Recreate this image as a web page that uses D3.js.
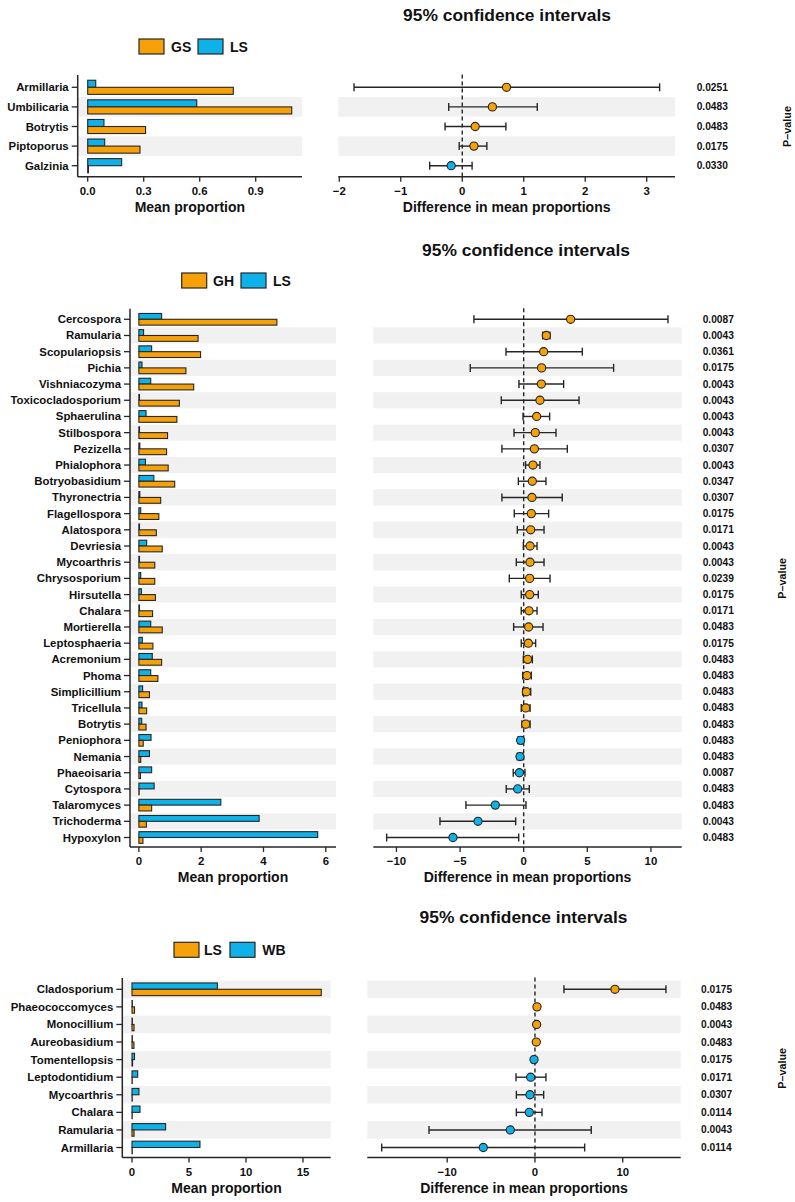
<!DOCTYPE html>
<html><head><meta charset="utf-8">
<script src="https://cdn.jsdelivr.net/npm/d3@7"></script>
<style>body{margin:0;background:#fff}svg{display:block}text{font-family:"Liberation Sans",Arial,Helvetica,sans-serif;font-weight:bold;fill:#111}</style>
</head><body>
<script>
// ---------- Panel 1 : GS vs LS ----------
const groups1 = ["GS","LS"];
const cats1 = ["Armillaria","Umbilicaria","Botrytis","Piptoporus","Galzinia"];
const gs1 = [0.78,1.093,0.31,0.28,0.004];
const ls1 = [0.043,0.584,0.087,0.091,0.182];
const diff1 = [0.72,0.49,0.21,0.19,-0.18];
const lo1 = [-1.76,-0.22,-0.28,-0.05,-0.53];
const hi1 = [3.21,1.22,0.71,0.40,0.16];
const p1 = ["0.0251","0.0483","0.0483","0.0175","0.0330"];
const barTicks1 = [0,0.3,0.6,0.9];
const ciTicks1 = [-2,-1,0,1,2,3];

// ---------- Panel 2 : GH vs LS ----------
const groups2 = ["GH","LS"];
const cats2 = ["Cercospora","Ramularia","Scopulariopsis","Pichia","Vishniacozyma","Toxicocladosporium","Sphaerulina","Stilbospora","Pezizella","Phialophora","Botryobasidium","Thyronectria","Flagellospora","Alatospora","Devriesia","Mycoarthris","Chrysosporium","Hirsutella","Chalara","Mortierella","Leptosphaeria","Acremonium","Phoma","Simplicillium","Tricellula","Botrytis","Peniophora","Nemania","Phaeoisaria","Cytospora","Talaromyces","Trichoderma","Hypoxylon"];
const gh2 = [4.43,1.90,1.98,1.51,1.76,1.30,1.22,0.92,0.89,0.94,1.15,0.70,0.64,0.56,0.75,0.51,0.51,0.53,0.44,0.75,0.45,0.73,0.61,0.34,0.25,0.23,0.14,0.06,0.05,0.01,0.41,0.24,0.13];
const ls2 = [0.73,0.15,0.41,0.10,0.38,0.02,0.23,0.02,0.03,0.21,0.48,0.03,0.06,0.02,0.25,0.02,0.06,0.08,0.02,0.38,0.11,0.43,0.38,0.12,0.10,0.09,0.39,0.34,0.41,0.49,2.63,3.86,5.74];
const diff2 = [3.69,1.78,1.57,1.41,1.39,1.28,1.02,0.91,0.84,0.73,0.68,0.65,0.60,0.55,0.50,0.50,0.47,0.47,0.42,0.39,0.37,0.31,0.26,0.21,0.16,0.16,-0.24,-0.29,-0.34,-0.47,-2.23,-3.59,-5.56];
const lo2 = [-3.91,1.49,-1.39,-4.20,-0.37,-1.76,-0.05,-0.76,-1.71,0.15,-0.42,-1.71,-0.74,-0.50,-0.03,-0.58,-1.13,-0.19,-0.19,-0.79,-0.19,-0.03,-0.08,-0.08,-0.19,-0.14,-0.45,-0.50,-0.82,-1.37,-4.54,-6.58,-10.77];
const hi2 = [11.34,2.07,4.61,7.07,3.14,4.35,2.04,2.54,3.43,1.28,1.75,3.03,1.96,1.60,1.05,1.60,2.07,1.15,1.05,1.52,0.94,0.68,0.60,0.55,0.50,0.50,-0.05,-0.08,0.10,0.44,0.18,-0.63,-0.39];
const p2 = ["0.0087","0.0043","0.0361","0.0175","0.0043","0.0043","0.0043","0.0043","0.0307","0.0043","0.0347","0.0307","0.0175","0.0171","0.0043","0.0043","0.0239","0.0175","0.0171","0.0483","0.0175","0.0483","0.0483","0.0483","0.0483","0.0483","0.0483","0.0483","0.0087","0.0483","0.0483","0.0043","0.0483"];
const barTicks2 = [0,2,4,6];
const ciTicks2 = [-10,-5,0,5,10];

// ---------- Panel 3 : LS vs WB ----------
const groups3 = ["LS","WB"];
const cats3 = ["Cladosporium","Phaeococcomyces","Monocillium","Aureobasidium","Tomentellopsis","Leptodontidium","Mycoarthris","Chalara","Ramularia","Armillaria"];
const ls3 = [16.6,0.22,0.18,0.17,0.05,0.02,0.02,0.02,0.18,0.02];
const wb3 = [7.49,0.03,0.03,0.03,0.22,0.5,0.61,0.7,2.95,5.96];
const diff3 = [9.11,0.23,0.19,0.15,-0.11,-0.49,-0.57,-0.65,-2.81,-5.89];
const lo3 = [3.3,0.08,0.05,0.03,-0.3,-2.16,-2.12,-2.12,-12.07,-17.46];
const hi3 = [14.92,0.38,0.33,0.28,0.08,1.25,0.99,0.80,6.41,5.66];
const p3 = ["0.0175","0.0483","0.0043","0.0483","0.0175","0.0171","0.0307","0.0114","0.0043","0.0114"];
const barTicks3 = [0,5,10,15];
const ciTicks3 = [-10,0,10];

const ORANGE = "#F7A10A", BLUE = "#0FB2E8", BAND = "#F1F1F1", INK = "#262626";

const svg = d3.select("body").append("svg").attr("width",795).attr("height",1202);
svg.append("rect").attr("width",795).attr("height",1202).attr("fill","#fff");

function panel(o){
  const g = svg.append("g");
  const n = o.cats.length;
  const y = d3.scaleBand().domain(o.cats).range([o.yTop,o.yBot]).padding(0);
  const s = y.bandwidth();
  const xb = d3.scaleLinear().domain(o.barDom).range([o.barL,o.barR]);
  const xc = d3.scaleLinear().domain(o.ciDom).range([o.ciL,o.ciR]);
  o.cats.forEach((c,i)=>{
    if((n-1-i)%2===1){
      g.append("rect").attr("x",o.barL).attr("y",y(c)).attr("width",o.barR-o.barL).attr("height",s).attr("fill",BAND);
      g.append("rect").attr("x",o.ciL).attr("y",y(c)).attr("width",o.ciR-o.ciL).attr("height",s).attr("fill",BAND);
    }
  });
  g.append("text").attr("x",o.titleX).attr("y",o.titleY).attr("text-anchor","middle").attr("dominant-baseline","central").style("font-size","17.4px").text("95% confidence intervals");
  const legCols=[ORANGE,BLUE];
  o.groups.forEach((gr,k)=>{
    g.append("rect").attr("x",o.leg[k*2]).attr("y",o.legY).attr("width",25).attr("height",15).attr("fill",legCols[k]).attr("stroke",INK).attr("stroke-width",1.2);
    g.append("text").attr("x",o.leg[k*2+1]).attr("y",o.legY+7.8).attr("dominant-baseline","central").style("font-size","14px").text(gr);
  });
  const bh = s*0.36;
  o.cats.forEach((c,i)=>{
    const cy = y(c)+s/2;
    g.append("rect").attr("x",xb(0)).attr("y",cy-bh).attr("width",Math.max(0,xb(o.b[i])-xb(0))).attr("height",bh).attr("fill",BLUE).attr("stroke",INK).attr("stroke-width",1.1);
    g.append("rect").attr("x",xb(0)).attr("y",cy).attr("width",Math.max(0,xb(o.a[i])-xb(0))).attr("height",bh).attr("fill",ORANGE).attr("stroke",INK).attr("stroke-width",1.1);
  });
  const axY = o.yBot+1.3;
  g.append("line").attr("x1",o.barL).attr("x2",o.barL).attr("y1",o.yTop-2.5).attr("y2",axY).attr("stroke",INK).attr("stroke-width",1.5);
  g.append("line").attr("x1",o.barL).attr("x2",o.barR).attr("y1",axY).attr("y2",axY).attr("stroke",INK).attr("stroke-width",1.5);
  o.cats.forEach(c=>{
    const cy=y(c)+s/2;
    g.append("line").attr("x1",o.barL-6).attr("x2",o.barL).attr("y1",cy).attr("y2",cy).attr("stroke",INK).attr("stroke-width",1.3);
    g.append("text").attr("x",o.barL-9).attr("y",cy).attr("text-anchor","end").attr("dominant-baseline","central").style("font-size","11.4px").text(c);
  });
  const fmt = o.barFmt;
  o.barTicks.forEach(t=>{
    g.append("line").attr("x1",xb(t)).attr("x2",xb(t)).attr("y1",axY).attr("y2",axY+5).attr("stroke",INK).attr("stroke-width",1.3);
    g.append("text").attr("x",xb(t)).attr("y",axY+14.5).attr("text-anchor","middle").attr("dominant-baseline","central").style("font-size","11.4px").text(fmt(t));
  });
  g.append("text").attr("x",(o.barL+o.barR)/2).attr("y",axY+30).attr("text-anchor","middle").attr("dominant-baseline","central").style("font-size","14px").text("Mean proportion");
  g.append("line").attr("x1",o.ciL).attr("x2",o.ciR).attr("y1",axY).attr("y2",axY).attr("stroke",INK).attr("stroke-width",1.5);
  const cf = d3.format("d");
  o.ciTicks.forEach(t=>{
    g.append("line").attr("x1",xc(t)).attr("x2",xc(t)).attr("y1",axY).attr("y2",axY+5).attr("stroke",INK).attr("stroke-width",1.3);
    g.append("text").attr("x",xc(t)).attr("y",axY+14.5).attr("text-anchor","middle").attr("dominant-baseline","central").style("font-size","11.4px").text(cf(t));
  });
  g.append("text").attr("x",(o.ciL+o.ciR)/2).attr("y",axY+30).attr("text-anchor","middle").attr("dominant-baseline","central").style("font-size","14px").text("Difference in mean proportions");
  g.append("line").attr("x1",xc(0)).attr("x2",xc(0)).attr("y1",o.yTop-3).attr("y2",axY).attr("stroke",INK).attr("stroke-width",1.4).attr("stroke-dasharray","4,3");
  o.cats.forEach((c,i)=>{
    const cy=y(c)+s/2;
    const x1=xc(o.lo[i]), x2=xc(o.hi[i]);
    g.append("line").attr("x1",x1).attr("x2",x2).attr("y1",cy).attr("y2",cy).attr("stroke",INK).attr("stroke-width",1.4);
    [x1,x2].forEach(xx=>g.append("line").attr("x1",xx).attr("x2",xx).attr("y1",cy-4).attr("y2",cy+4).attr("stroke",INK).attr("stroke-width",1.4));
    g.append("circle").attr("cx",xc(o.d[i])).attr("cy",cy).attr("r",4.1).attr("fill",o.d[i]>0?ORANGE:BLUE).attr("stroke",INK).attr("stroke-width",1.1);
    g.append("text").attr("x",o.pX).attr("y",cy).attr("dominant-baseline","central").style("font-size","10.2px").text(o.p[i]);
  });
  g.append("text").attr("transform",`translate(${o.pvX},${(o.yTop+o.yBot)/2}) rotate(-90)`).attr("text-anchor","middle").attr("dominant-baseline","central").style("font-size","10.8px").text("P\u2013value");
}

panel({groups:groups1,cats:cats1,a:gs1,b:ls1,d:diff1,lo:lo1,hi:hi1,p:p1,barTicks:barTicks1,ciTicks:ciTicks1,barFmt:d3.format(".1f"),
  yTop:77.5,yBot:175.5,barL:77.7,barR:302,barDom:[-0.0536,1.148],ciL:338.3,ciR:675,ciDom:[-2.016,3.46],
  titleX:507,titleY:15,leg:[139,171,198,230],legY:39,pX:696.7,pvX:786.5});

panel({groups:groups2,cats:cats2,a:gh2,b:ls2,d:diff2,lo:lo2,hi:hi2,p:p2,barTicks:barTicks2,ciTicks:ciTicks2,barFmt:d3.format("d"),
  yTop:311.2,yBot:845.6,barL:130,barR:336,barDom:[-0.285,6.327],ciL:373.3,ciR:681.7,ciDom:[-11.82,12.42],
  titleX:526,titleY:250,leg:[181.7,213,241,273],legY:273,pX:702.7,pvX:782});

panel({groups:groups3,cats:cats3,a:ls3,b:wb3,d:diff3,lo:lo3,hi:hi3,p:p3,barTicks:barTicks3,ciTicks:ciTicks3,barFmt:d3.format("d"),
  yTop:980.5,yBot:1156.3,barL:122.3,barR:330.7,barDom:[-0.851,17.43],ciL:367.3,ciR:680.7,ciDom:[-19.1,16.6],
  titleX:523.5,titleY:917,leg:[174,204,230,262.3],legY:942.3,pX:701,pvX:782});
</script>
</body></html>
